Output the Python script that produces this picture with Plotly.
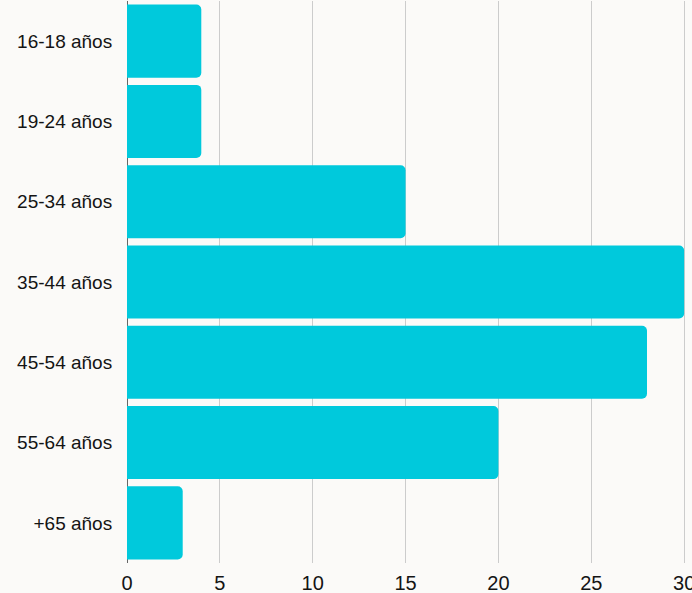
import plotly.graph_objects as go

categories = ["16-18 años", "19-24 años", "25-34 años", "35-44 años", "45-54 años", "55-64 años", "+65 años"]
values = [4, 4, 15, 30, 28, 20, 3]
x_ticks = [0, 5, 10, 15, 20, 25, 30]

BG = "#fbfaf8"
BAR = "#00c9dc"
FONT = "Liberation Sans"

fig = go.Figure(
    go.Bar(
        x=values,
        y=categories,
        orientation="h",
        marker=dict(color=BAR, line=dict(width=0), cornerradius=5),
        hoverinfo="skip",
    )
)

fig.update_layout(
    width=692,
    height=593,
    paper_bgcolor=BG,
    plot_bgcolor=BG,
    margin=dict(l=127, r=6, t=1, b=30, pad=0, autoexpand=False),
    bargap=0.09,
    showlegend=False,
    font=dict(family=FONT, color="#141414"),
)

fig.update_xaxes(
    range=[0, 30.1],
    tickvals=x_ticks,
    ticktext=[str(v) for v in x_ticks],
    showgrid=True,
    gridcolor="#cccccc",
    gridwidth=1,
    zeroline=True,
    zerolinecolor="#666666",
    zerolinewidth=1,
    showline=False,
    ticks="outside",
    ticklen=2,
    tickcolor="rgba(0,0,0,0)",
    ticklabeloverflow="allow",
    automargin=False,
    tickfont=dict(size=20, family=FONT, color="#141414"),
    fixedrange=True,
)

fig.update_yaxes(
    categoryorder="array",
    categoryarray=categories,
    autorange="reversed",
    showgrid=False,
    zeroline=False,
    showline=False,
    ticks="outside",
    ticklen=10,
    tickcolor="rgba(0,0,0,0)",
    automargin=False,
    tickfont=dict(size=19, family=FONT, color="#141414"),
    fixedrange=True,
)

fig.write_html(
    "out.html",
    config={"displayModeBar": False},
    post_script="document.body.style.margin='0';document.body.style.padding='0';document.body.style.overflow='hidden';document.body.style.background='" + BG + "';",
)
